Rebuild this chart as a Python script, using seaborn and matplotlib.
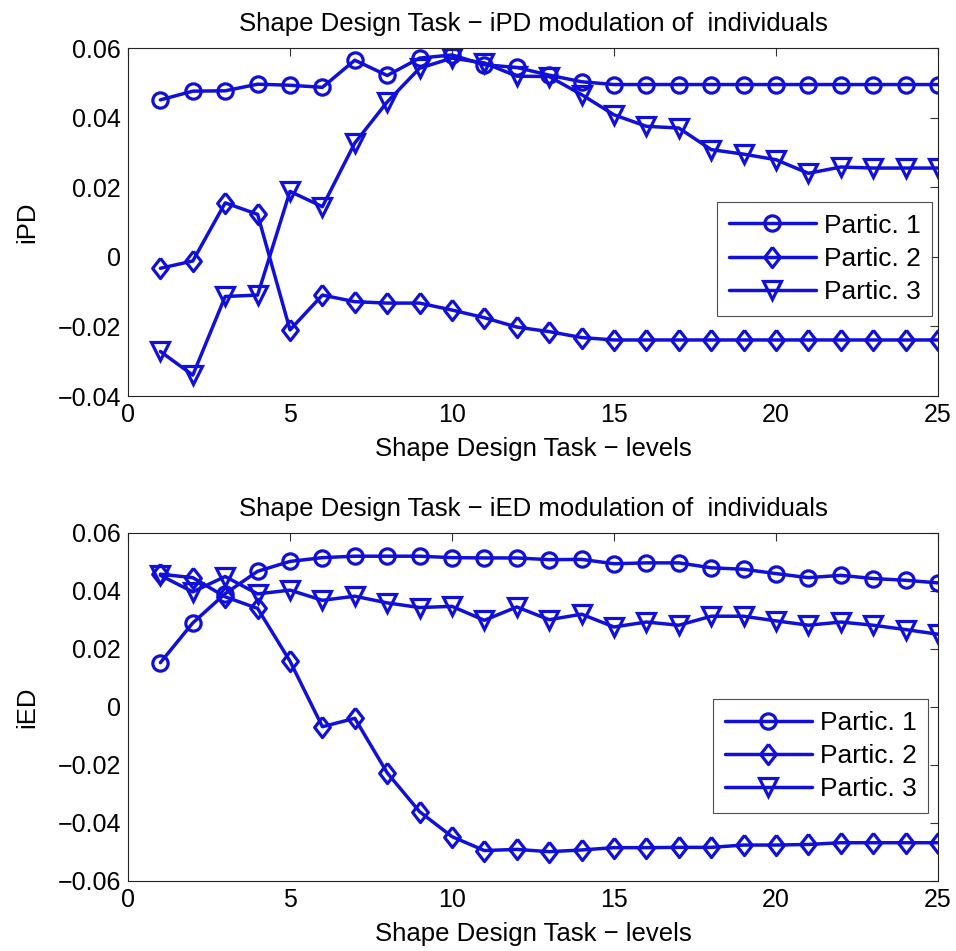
import numpy as np
import pandas as pd
import seaborn as sns
import matplotlib.pyplot as plt

# levels 1..25
levels = list(range(1, 26))

# iPD values per participant
ipd_p1 = [0.0451, 0.0476, 0.0477, 0.0496, 0.0493, 0.0487, 0.0565, 0.0521, 0.0571, 0.0580,
          0.0552, 0.0544, 0.0522, 0.0503, 0.0495, 0.0495, 0.0495, 0.0495, 0.0495, 0.0495,
          0.0495, 0.0495, 0.0495, 0.0495, 0.0495]
ipd_p2 = [-0.0033, -0.0012, 0.0155, 0.0122, -0.0210, -0.0110, -0.0129, -0.0133, -0.0133, -0.0153,
          -0.0175, -0.0202, -0.0215, -0.0232, -0.0239, -0.0239, -0.0239, -0.0239, -0.0239, -0.0239,
          -0.0239, -0.0239, -0.0239, -0.0239, -0.0239]
ipd_p3 = [-0.0272, -0.0340, -0.0114, -0.0110, 0.0188, 0.0144, 0.0327, 0.0445, 0.0542, 0.0571,
          0.0557, 0.0519, 0.0518, 0.0466, 0.0408, 0.0375, 0.0370, 0.0308, 0.0295, 0.0279,
          0.0240, 0.0258, 0.0255, 0.0255, 0.0255]

# iED values per participant
ied_p1 = [0.0153, 0.0290, 0.0391, 0.0468, 0.0502, 0.0515, 0.0520, 0.0520, 0.0520, 0.0515,
          0.0514, 0.0514, 0.0508, 0.0509, 0.0494, 0.0497, 0.0497, 0.0480, 0.0475, 0.0460,
          0.0446, 0.0454, 0.0443, 0.0437, 0.0428]
ied_p2 = [0.0458, 0.0446, 0.0380, 0.0340, 0.0158, -0.0068, -0.0039, -0.0227, -0.0361, -0.0447,
          -0.0495, -0.0491, -0.0499, -0.0493, -0.0485, -0.0485, -0.0484, -0.0484, -0.0476, -0.0476,
          -0.0474, -0.0468, -0.0468, -0.0468, -0.0468]
ied_p3 = [0.0454, 0.0397, 0.0450, 0.0390, 0.0403, 0.0368, 0.0382, 0.0359, 0.0343, 0.0347,
          0.0299, 0.0345, 0.0301, 0.0320, 0.0276, 0.0293, 0.0282, 0.0313, 0.0313, 0.0297,
          0.0282, 0.0293, 0.0282, 0.0267, 0.0251]

names = ['Partic. 1', 'Partic. 2', 'Partic. 3']

top_yticks = [-0.04, -0.02, 0, 0.02, 0.04, 0.06]
top_ylabels = ['\u22120.04', '\u22120.02', '0', '0.02', '0.04', '0.06']
bot_yticks = [-0.06, -0.04, -0.02, 0, 0.02, 0.04, 0.06]
bot_ylabels = ['\u22120.06', '\u22120.04', '\u22120.02', '0', '0.02', '0.04', '0.06']
xticks = [0, 5, 10, 15, 20, 25]

sns.set_style('white')
plt.rcParams['font.family'] = ['Liberation Sans', 'DejaVu Sans']
plt.rcParams['axes.linewidth'] = 0.8
plt.rcParams['text.color'] = 'black'
plt.rcParams['axes.labelcolor'] = 'black'

blue = '#1010D8'
# matlab-like diamond (a bit taller than wide)
diamond = [(0, 1), (0.78, 0), (0, -1), (-0.78, 0), (0, 1)]
marker_styles = [('o', 11), (diamond, 14.5), ('v', 13)]

fig = plt.figure(figsize=(9.56, 9.51), dpi=100)
W, H = 956, 951
ax1 = fig.add_axes([128 / W, 1 - 396 / H, 810 / W, 348 / H])
ax2 = fig.add_axes([128 / W, 1 - 881 / H, 810 / W, 348 / H])


def draw(ax, series, yticks, ylabels, ylabel, title, legend_anchor):
    for vals, name, (mk, ms) in zip(series, names, marker_styles):
        sns.lineplot(x=levels, y=vals, ax=ax, color=blue, linewidth=2.5, marker=mk,
                     markersize=ms, markerfacecolor='none',
                     markeredgecolor=blue, markeredgewidth=2.3, label=name)
    ax.set_xlim(0, 25)
    ax.set_ylim(yticks[0], yticks[-1])
    ax.set_xticks(xticks)
    ax.set_xticklabels([str(t) for t in xticks])
    ax.set_yticks(yticks)
    ax.set_yticklabels(ylabels)
    ax.tick_params(direction='in', top=True, right=True, length=6, width=0.8,
                   labelsize=18, colors='#333333', labelcolor='black', pad=5)
    for sp in ax.spines.values():
        sp.set_color('#222222')
        sp.set_visible(True)
    ax.set_xlabel('Shape Design Task \u2212 levels', fontsize=18.5, labelpad=7)
    ax.set_ylabel(ylabel, fontsize=18.5, labelpad=13)
    ax.set_title(title, fontsize=18.5, pad=12)
    leg = ax.legend(loc='lower right', bbox_to_anchor=legend_anchor, fontsize=19,
                    handlelength=3.3, frameon=True, fancybox=False, borderpad=0.45,
                    labelspacing=0.35, handletextpad=0.3, borderaxespad=0)
    leg.get_frame().set_edgecolor('#222222')
    leg.get_frame().set_linewidth(0.8)


draw(ax1, [ipd_p1, ipd_p2, ipd_p3], top_yticks, top_ylabels, 'iPD',
     'Shape Design Task \u2212 iPD modulation of  individuals', (0.993, 0.23))
draw(ax2, [ied_p1, ied_p2, ied_p3], bot_yticks, bot_ylabels, 'iED',
     'Shape Design Task \u2212 iED modulation of  individuals', (0.988, 0.195))

fig.savefig('out.png', dpi=100, facecolor='white')
